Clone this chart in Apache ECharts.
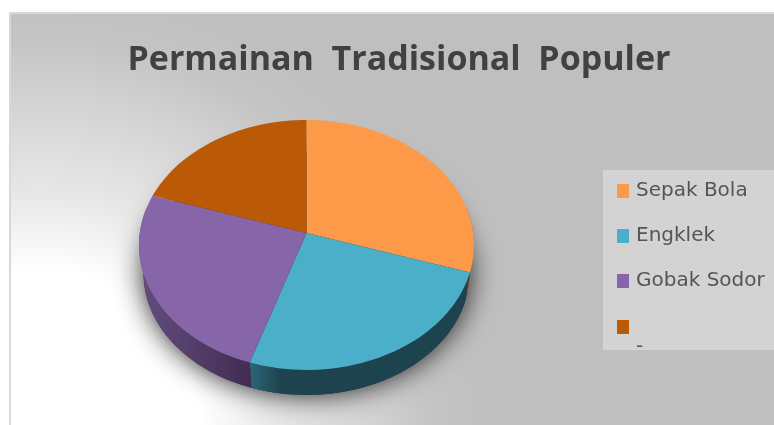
<!DOCTYPE html>
<html>
<head>
<meta charset="utf-8">
<style>html,body{margin:0;padding:0;background:#fff}#chart{width:774px;height:425px}</style>
<script src="https://cdn.jsdelivr.net/npm/echarts@6/dist/echarts.min.js"></script>
</head>
<body>
<div id="chart"></div>
<script>
// Slices of the pie, clockwise from twelve o'clock
const categories = ['Sepak Bola', 'Engklek', 'Gobak Sodor', '-'];
const values = [30, 25, 25, 20];
const faceColors = ['#fd9a4a', '#4bafca', '#8666a8', '#bb5a06'];
const wallColors = [
  ['#a8622c', '#a8622c'],
  ['#2a6678', '#1d444e'],
  ['#634d7e', '#432c52'],
  ['#6f3604', '#6f3604']
];
const titleText = 'Permainan  Tradisional  Populer';

// Tilted disc seen in perspective: the hub sits above the centre of the rim
const hub = { x: 306.5, y: 233 };
const disc = { a: 166.7, b: 123.8, k: -0.096, depth: 28.7, shrink: 0.973 };
const total = values.reduce((s, v) => s + v, 0);

function rimPoint(deg, lower) {
  const t = deg * Math.PI / 180;
  const fx = Math.sin(t), fy = -Math.cos(t);
  const w = 1 + disc.k * fy;
  const s = lower ? disc.shrink : 1;
  return [
    hub.x + s * disc.a * fx / w,
    hub.y + s * disc.b * fy / w + (lower ? disc.depth : 0)
  ];
}
function arc(from, to, lower) {
  const pts = [];
  const n = Math.max(2, Math.ceil(Math.abs(to - from) / 2));
  for (let i = 0; i <= n; i++) pts.push(rimPoint(from + (to - from) * i / n, lower));
  return pts;
}

function sliceRange(index) {
  let before = 0;
  for (let i = 0; i < index; i++) before += values[i];
  return [before / total * 360, (before + values[index]) / total * 360];
}

function renderSlice(index) {
  const [from, to] = sliceRange(index);
  const children = [];
  const wallFrom = Math.max(from, 78), wallTo = Math.min(to, 282);
  if (wallTo > wallFrom) {
    const top = arc(wallFrom, wallTo, false);
    const bottom = arc(wallFrom, wallTo, true).reverse();
    children.push({
      type: 'polygon',
      z2: 1,
      shape: { points: top.concat(bottom) },
      style: {
        fill: new echarts.graphic.LinearGradient(0, 0, 1, 0, [
          { offset: 0, color: wallColors[index][0] },
          { offset: index === 1 ? 0.14 : 1, color: wallColors[index][1] },
          { offset: 1, color: wallColors[index][1] }
        ])
      }
    });
  }
  children.push({
    type: 'polygon',
    z2: 2,
    shape: { points: [[hub.x, hub.y]].concat(arc(from, to, false)) },
    style: { fill: faceColors[index] }
  });
  return { type: 'group', children };
}

// Soft shadow thrown by the underside of the disc
function renderShadow() {
  return {
    type: 'polygon',
    z2: 0,
    shape: { points: arc(0, 360, true) },
    style: {
      fill: '#333333',
      shadowBlur: 28,
      shadowColor: 'rgba(0,0,0,0.85)'
    }
  };
}

const sliceSeries = categories.map((name, i) => ({
  type: 'custom',
  name,
  coordinateSystem: 'none',
  silent: true,
  data: [[values[i]]],
  itemStyle: { color: faceColors[i] },
  renderItem: () => renderSlice(i)
}));

const legendText = { fontFamily: 'DejaVu Sans', fontSize: 20, lineHeight: 20, color: '#555555', padding: [0, 0, 0, 2] };
const legendBase = {
  orient: 'vertical',
  left: 617,
  padding: 0,
  icon: 'rect',
  itemWidth: 12,
  itemHeight: 14,
  selectedMode: false,
  textStyle: legendText
};

const chart = echarts.init(document.getElementById('chart'), null, { renderer: 'canvas' });
chart.setOption({
  animation: false,
  title: {
    text: titleText,
    left: 394,
    top: 38,
    textAlign: 'center',
    textStyle: { fontFamily: 'Open Sans', fontWeight: 'bold', fontSize: 34, color: '#414141' }
  },
  legend: [
    Object.assign({}, legendBase, { data: categories.slice(0, 3), top: 181, itemGap: 25 }),
    // The last entry's text sits on a line of its own below its swatch
    Object.assign({}, legendBase, {
      data: categories.slice(3),
      top: 297,
      formatter: name => '\n\n' + name
    })
  ],
  graphic: [
    {
      type: 'rect',
      z: -10,
      shape: { x: 10, y: 13, width: 770, height: 420 },
      style: {
        stroke: '#d8d8d8',
        lineWidth: 2,
        fill: new echarts.graphic.RadialGradient(40, 430, 450, [
          { offset: 0, color: '#ffffff' },
          { offset: 0.355, color: '#ffffff' },
          { offset: 0.52, color: '#e8e8e8' },
          { offset: 0.58, color: '#e2e2e2' },
          { offset: 0.73, color: '#d3d3d3' },
          { offset: 0.87, color: '#c4c4c4' },
          { offset: 1, color: '#bfbfbf' }
        ], true)
      }
    },
    {
      type: 'rect',
      z: -9,
      shape: { x: 603, y: 170, width: 171, height: 180 },
      style: { fill: '#d3d3d3' }
    }
  ],
  series: [
    {
      type: 'custom',
      name: 'rim shadow',
      coordinateSystem: 'none',
      silent: true,
      data: [[0]],
      renderItem: renderShadow
    }
  ].concat(sliceSeries)
});
</script>
</body>
</html>
